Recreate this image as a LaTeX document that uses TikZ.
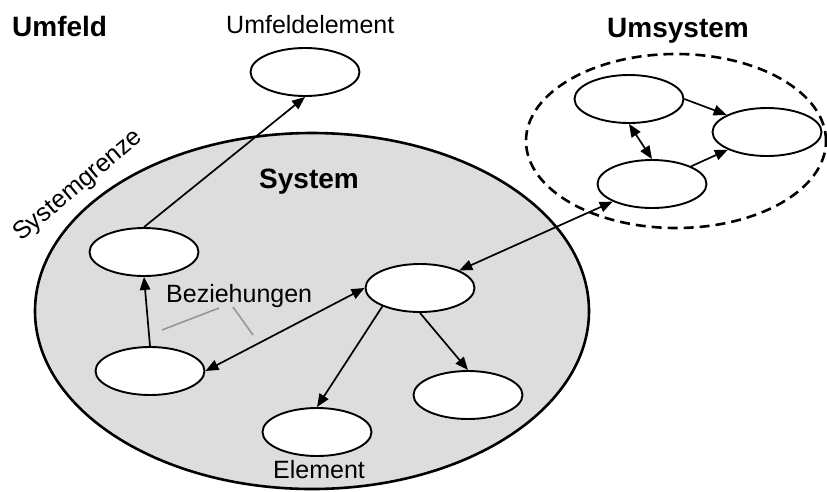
\documentclass[tikz,border=0pt]{standalone}
\usepackage{fontspec}
\setmainfont{Liberation Sans}
\usetikzlibrary{shapes.geometric,arrows.meta}

\tikzset{
  elem/.style={ellipse, draw=black, line width=1.9pt, fill=white, inner sep=0pt,
               minimum width=109pt, minimum height=48pt},
  sysbound/.style={ellipse, draw=black, line width=2.6pt, fill=gray!27, inner sep=0pt},
  umsys/.style={ellipse, draw=black, line width=2.6pt, dash pattern=on 10pt off 6pt, inner sep=0pt},
  tip/.tip={Triangle[length=13pt,width=10.5pt]},
  rel/.style={line width=1.7pt, -tip},
  birel/.style={line width=1.7pt, tip-tip},
  pointer/.style={line width=1.5pt, draw=gray!85},
  title/.style={font=\fontsize{28}{32}\selectfont\bfseries, inner sep=0pt},
  label/.style={font=\fontsize{25}{29}\selectfont, inner sep=0pt},
}

\begin{document}
\begin{tikzpicture}[x=1pt, y=-1pt]
  \useasboundingbox (0,0) rectangle (827,491);

  % system boundary and surrounding system
  \node[sysbound, minimum width=554pt, minimum height=356pt] (sys) at (312,311) {};
  \node[umsys, minimum width=300pt, minimum height=174pt] (ums) at (676,141) {};

  % elements
  \node[elem] (ue) at (305,72) {};
  \node[elem] (lu) at (144,252) {};
  \node[elem] (ll) at (150,371) {};
  \node[elem] (c)  at (420,288) {};
  \node[elem] (lr) at (468,395) {};
  \node[elem] (el) at (317,432) {};
  \node[elem] (ut) at (629,99) {};
  \node[elem] (ur) at (767,132) {};
  \node[elem] (ub) at (652,184) {};

  % relations
  \draw[rel]   (lu.north) -- (ue.south);
  \draw[rel]   (ll.north) -- (lu.south);
  \draw[birel] (ll.east) -- (c.west);
  \draw[rel]   (c.206) -- (el.north);
  \draw[rel]   (c.south) -- (lr.north);
  \draw[birel] (c) -- (ub);
  \draw[rel]   (ut.east) -- (ur.157);
  \draw[rel]   (ub) -- (ur);
  \draw[birel] (ut.south) -- (ub.north);

  % labels
  \node[title, anchor=base west] (tumfeld) at (12,36) {Umfeld};
  \node[title, anchor=base west] (tumsys) at (607,37) {Umsystem};
  \node[title, anchor=base west] (tsys) at (259,188) {System};
  \node[label, anchor=base west] (tue) at (226,33) {Umfeldelement};
  \node[label, anchor=base west] (tbez) at (166,302) {Beziehungen};
  \node[label, anchor=base west] (tel) at (273,478) {Element};
  \node[label, anchor=base west, rotate=40] (tgrenze) at (21,242) {Systemgrenze};

  % pointers from the relation label
  \coordinate (p1a) at (219,308);
  \coordinate (p1b) at (162,330);
  \coordinate (p2a) at (233,307);
  \coordinate (p2b) at (253,335);
  \draw[pointer] (p1a) -- (p1b);
  \draw[pointer] (p2a) -- (p2b);
\end{tikzpicture}
\end{document}
